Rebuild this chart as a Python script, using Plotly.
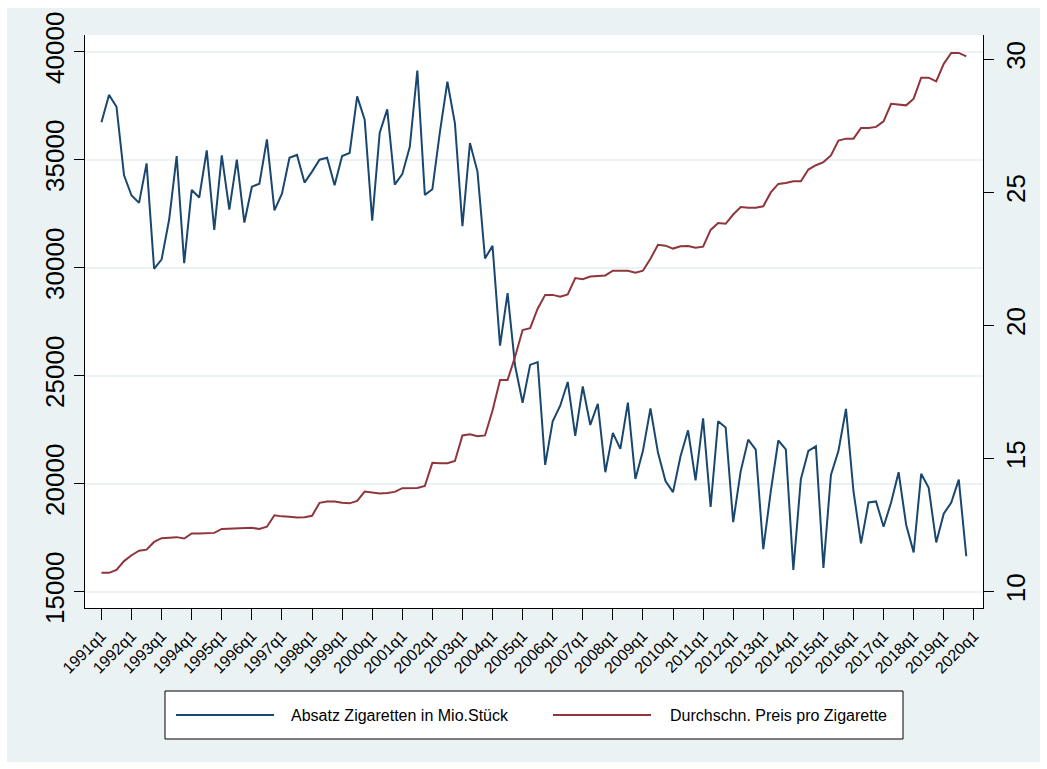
import plotly.graph_objects as go

# Quarterly series, 1991q1 .. 2019q4
absatz = [
    36730, 38000, 37450, 34280, 33340, 33000, 34830, 29950,
    30390, 32230, 35170, 30210, 33600, 33250, 35430, 31750,
    35200, 32690, 35000, 32090, 33750, 33890, 35940, 32650,
    33430, 35090, 35220, 33940, 34450, 35000, 35090, 33820,
    35170, 35310, 37930, 36850, 32180, 36250, 37330, 33850,
    34330, 35600, 39130, 33370, 33630, 36280, 38610, 36680,
    31920, 35770, 34450, 30430, 31010, 26390, 28820, 25460,
    23750, 25500, 25630, 20870, 22890, 23610, 24710, 22210,
    24500, 22720, 23700, 20530, 22350, 21610, 23750, 20220,
    21520, 23480, 21440, 20120, 19610, 21270, 22470, 20150,
    23030, 18920, 22890, 22600, 18220, 20580, 22040, 21580,
    16970, 19640, 22000, 21590, 16010, 20210, 21520, 21730,
    16100, 20410, 21520, 23460, 19640, 17240, 19130, 19180,
    18010, 19130, 20530, 18100, 16820, 20460, 19810, 17280,
    18610, 19130, 20190, 16640,
]

preis = [
    10.71, 10.71, 10.82, 11.15, 11.37, 11.54, 11.58, 11.87,
    12.01, 12.03, 12.05, 12.00, 12.19, 12.19, 12.21, 12.21,
    12.36, 12.37, 12.37, 12.37, 12.40, 12.36, 12.44, 12.87,
    12.83, 12.82, 12.79, 12.80, 12.85, 13.34, 13.39, 13.39,
    13.34, 13.32, 13.41, 13.76, 13.72, 13.69, 13.71, 13.75,
    13.89, 13.89, 13.90, 13.97, 14.84, 14.83, 14.83, 14.91,
    15.87, 15.91, 15.84, 15.87, 16.81, 17.95, 17.95, 18.83,
    19.83, 19.90, 20.63, 21.15, 21.15, 21.08, 21.17, 21.78,
    21.74, 21.84, 21.87, 21.88, 22.06, 22.06, 22.06, 21.98,
    22.06, 22.51, 23.03, 23.00, 22.89, 22.98, 22.99, 22.92,
    22.96, 23.59, 23.85, 23.82, 24.17, 24.45, 24.42, 24.42,
    24.48, 25.00, 25.32, 25.35, 25.42, 25.42, 25.86, 26.02,
    26.14, 26.39, 26.95, 27.02, 27.02, 27.42, 27.42, 27.46,
    27.67, 28.33, 28.31, 28.27, 28.52, 29.31, 29.31, 29.17,
    29.83, 30.24, 30.24, 30.11,
]

quarters = [f"{1991 + k // 4}q{k % 4 + 1}" for k in range(len(absatz))]
x_idx = list(range(len(quarters)))

tick_years = list(range(1991, 2021))
tick_text = [f"{y}q1" for y in tick_years]
tick_pos = [(y - 1991) * 4 for y in tick_years]

left_ticks = [15000, 20000, 25000, 30000, 35000, 40000]
right_ticks = [10, 15, 20, 25, 30]

label_absatz = "Absatz Zigaretten in Mio.Stück"
label_preis = "Durchschn. Preis pro Zigarette"

BLUE = "#1a476f"
RED = "#90353b"
BG = "#eaf2f3"
FONT = "Liberation Sans, Arial, sans-serif"

W, H = 1047, 769
ML, MR, MT, MB = 85, 64, 35, 161
PW, PH = W - ML - MR, H - MT - MB


def px(xp):
    return (xp - ML) / PW


def py(yp):
    return (H - MB - yp) / PH


fig = go.Figure()
fig.add_trace(go.Scatter(
    x=x_idx, y=absatz, text=quarters, mode="lines", name=label_absatz,
    line=dict(color=BLUE, width=2), yaxis="y",
))
fig.add_trace(go.Scatter(
    x=x_idx, y=preis, text=quarters, mode="lines", name=label_preis,
    line=dict(color=RED, width=2), yaxis="y2",
))

shapes = [
    # outer graph region
    dict(type="rect", xref="paper", yref="paper", layer="below",
         x0=px(7), x1=px(1040), y0=py(762), y1=py(8),
         fillcolor=BG, line=dict(width=0)),
    # plot region
    dict(type="rect", xref="paper", yref="paper", layer="below",
         x0=0, x1=1, y0=0, y1=1, fillcolor="white", line=dict(width=0)),
    # legend box
    dict(type="rect", xref="paper", yref="paper",
         x0=px(165), x1=px(903), y0=py(739), y1=py(691),
         fillcolor="white", line=dict(color="black", width=1)),
    dict(type="line", xref="paper", yref="paper",
         x0=px(176), x1=px(274), y0=py(715), y1=py(715),
         line=dict(color=BLUE, width=2)),
    dict(type="line", xref="paper", yref="paper",
         x0=px(553), x1=px(651), y0=py(715), y1=py(715),
         line=dict(color=RED, width=2)),
]

annotations = [
    dict(xref="paper", yref="paper", x=px(289), y=py(715), xanchor="left",
         yanchor="middle", text=label_absatz, showarrow=False,
         font=dict(family=FONT, size=16, color="black")),
    dict(xref="paper", yref="paper", x=px(668), y=py(715), xanchor="left",
         yanchor="middle", text=label_preis, showarrow=False,
         font=dict(family=FONT, size=16, color="black")),
]

fig.update_layout(
    width=W, height=H, autosize=False,
    margin=dict(l=ML, r=MR, t=MT, b=MB, pad=0),
    paper_bgcolor="white", plot_bgcolor="white",
    showlegend=False,
    font=dict(family=FONT, color="black"),
    shapes=shapes, annotations=annotations,
    xaxis=dict(
        range=[-2.19, 117.22], tickmode="array", tickvals=tick_pos,
        ticktext=tick_text, tickangle=-45, ticks="outside", ticklen=11,
        tickwidth=1, tickcolor="black", showline=True, linecolor="black",
        linewidth=1, showgrid=False, zeroline=False,
        tickfont=dict(family=FONT, size=16, color="black"),
    ),
    yaxis=dict(
        range=[14245, 40773], tickmode="array", tickvals=left_ticks,
        tickformat="d", tickangle=-90, ticks="outside", ticklen=10,
        tickwidth=1, tickcolor="black", showline=True, linecolor="black",
        linewidth=1, showgrid=True, gridcolor=BG, gridwidth=1.5,
        zeroline=False, tickfont=dict(family=FONT, size=26, color="black"),
    ),
    yaxis2=dict(
        range=[9.388, 30.913], overlaying="y", side="right",
        tickmode="array", tickvals=right_ticks, tickangle=-90,
        ticks="outside", ticklen=10, tickwidth=1, tickcolor="black",
        showline=True, linecolor="black", linewidth=1, showgrid=False,
        zeroline=False, tickfont=dict(family=FONT, size=26, color="black"),
    ),
)

fig.write_html("out.html")
